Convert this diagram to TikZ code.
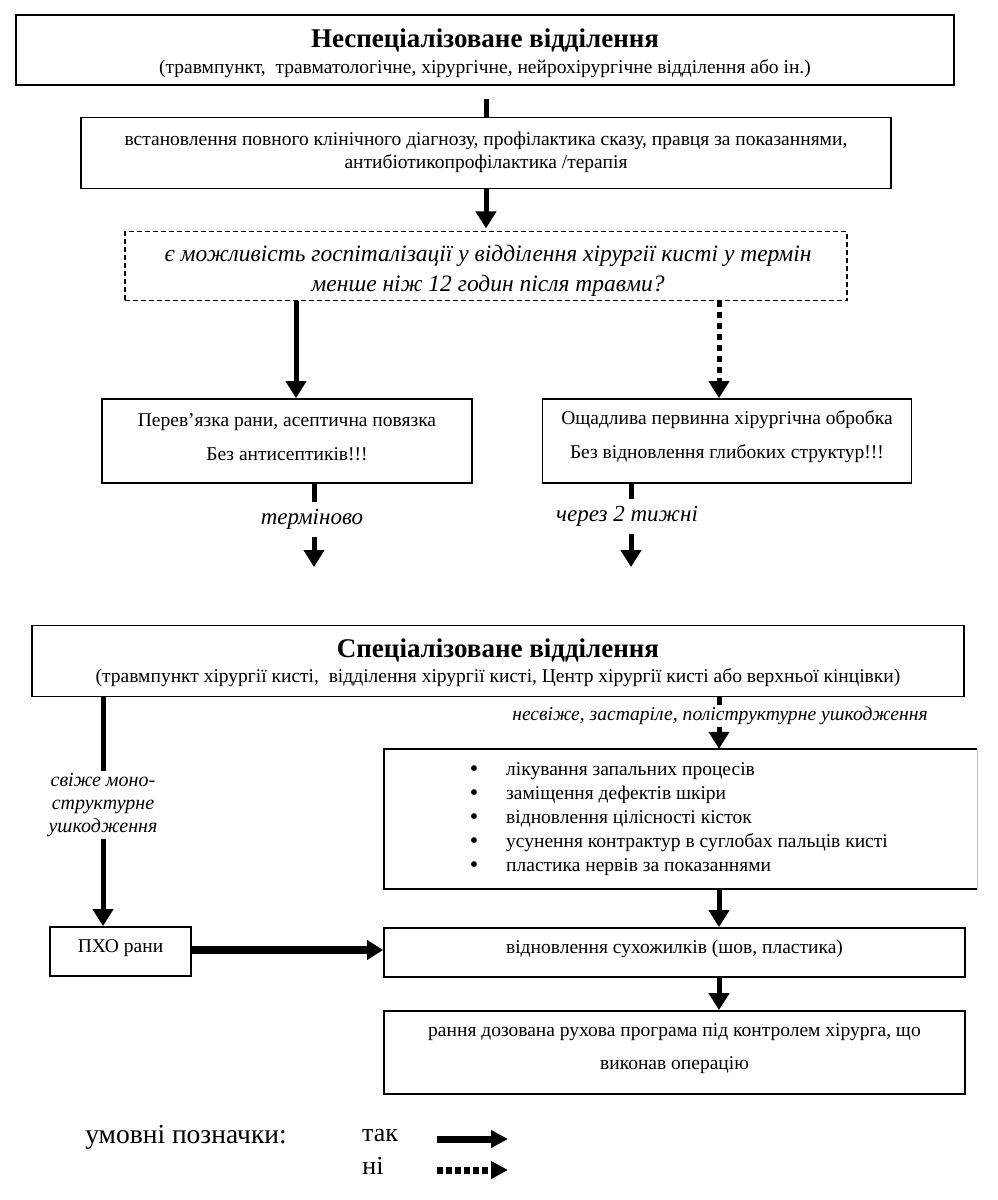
\documentclass[tikz,border=0pt]{standalone}
\usepackage{fontspec}
\setmainfont{Liberation Serif}
\usetikzlibrary{arrows.meta,calc}
\newcommand\myfs[2]{\fontsize{#1}{#2}\selectfont}
\begin{document}
\begin{tikzpicture}[x=1pt,y=-1pt,
  box/.style={draw, line width=1.8pt, inner sep=0pt, align=center},
  qbox/.style={box, dash pattern=on 5pt off 3pt},
  body/.style={inner sep=0pt, align=center, font=\myfs{19.5}{23}},
  lbl/.style={inner sep=0pt, align=center, font=\itshape\myfs{21}{23}},
  title/.style={inner sep=0pt, font=\bfseries\myfs{27}{30}},
  stub/.style={line width=5pt},
  arr/.style={line width=5pt, -{Triangle[width=20pt,length=17pt]}},
  darr/.style={arr, dash pattern=on 6pt off 5pt},
  wide/.style={line width=8pt, -{Triangle[width=19pt,length=16pt]}}
]
\useasboundingbox (0,0) rectangle (998,1200);

% --- top department
\node[box, minimum width=938pt, minimum height=70pt] (b1) at (485,50) {};
\node[title] (t1) at (485,40) {Неспеціалізоване відділення};
\node[body] (s1) at (485,69) {(травмпункт, \ травматологічне, хірургічне, нейрохірургічне відділення або ін.)};

\node[box, minimum width=810pt, minimum height=71pt] (b2) at (486,153) {};
\node[body] (b2t) at (486,152) {встановлення повного клінічного діагнозу, профілактика сказу, правця за показаннями,\\антибіотикопрофілактика /терапія};

\draw[stub] (b2.north -| 486,0) -- ++(0,-18);
\draw[arr] (b2.south) -- ++(0,39) coordinate (qtop);

\node[qbox, minimum width=722pt, minimum height=69pt] (q) at (486,266) {};
\node[inner sep=0pt, align=center, font=\itshape\myfs{23.5}{30}] (qt) at (488,271) {є можливість госпіталізації у відділення хірургії кисті у термін\\менше ніж 12 годин після травми?};

% --- two branches
\node[box, minimum width=370pt, minimum height=84pt] (L) at (287,441) {};
\node[body, font=\myfs{19.5}{34}] (Lt) at (287,437) {Перев’язка рани, асептична повязка\\Без антисептиків!!!};
\node[box, minimum width=369pt, minimum height=84pt] (R) at (727,441) {};
\node[body, font=\myfs{19.5}{34}] (Rt) at (727,437) {Ощадлива первинна хірургічна обробка\\Без відновлення глибоких структур!!!};

\draw[arr] (q.south -| 296,0) -- (L.north -| 296,0);
\draw[darr] (q.south -| 719,0) -- (R.north -| 719,0);

\node[lbl, minimum height=35pt, font=\itshape\myfs{23}{23}] (urg) at (312,519.5) {терміново};
\node[lbl, minimum height=35pt, font=\itshape\myfs{23}{23}] (wk) at (627,516.5) {через 2 тижні};
\coordinate (urgend) at (314,567);
\coordinate (wkend) at (631,567);
\draw[stub] (L.south -| urgend) -- (urgend |- urg.north);
\draw[arr] (urgend |- urg.south) -- (urgend);
\draw[stub] (R.south -| wkend) -- (wkend |- wk.north);
\draw[arr] (wkend |- wk.south) -- (wkend);

% --- specialised department
\node[box, minimum width=932pt, minimum height=71pt] (S) at (498,661) {};
\node[title] (t2) at (498,650) {Спеціалізоване відділення};
\node[body] (s2) at (498,678) {(травмпункт хірургії кисті, \ відділення хірургії кисті, Центр хірургії кисті або верхньої кінцівки)};

% bullet box (right edge faint)
\node[inner sep=0pt, minimum width=593pt, minimum height=140pt] (B) at (680.5,819) {};
\draw[line width=1.8pt] (B.north east) -- (B.north west) -- (B.south west) -- (B.south east);
\draw[line width=0.8pt, black!25] (B.north east) -- (B.south east);
\foreach \i/\t in {1/лікування запальних процесів,2/заміщення дефектів шкіри,3/відновлення цілісності кісток,4/усунення контрактур в суглобах пальців кисті,5/пластика нервів за показаннями}{
  \node[inner sep=0pt, font=\myfs{24}{23}] (bu\i) at (474,{747+24*\i}) {•};
  \node[inner sep=0pt, anchor=west, font=\myfs{19.5}{23}] (bt\i) at (506,{747+24*\i}) {\t};
}

\node[lbl, minimum height=22pt, font=\itshape\myfs{19.6}{23}] (old) at (720,716) {несвіже, застаріле, поліструктурне ушкодження};
\draw[stub] (S.south -| 719,0) -- (old.north -| 719,0);
\draw[arr] (old.south -| 719,0) -- (B.north -| 719,0);

\node[box, minimum width=141pt, minimum height=49pt] (P) at (120.5,951.5) {};
\node[body] (Pt) at (120.5,948) {ПХО рани};

\node[lbl, minimum height=68pt, font=\itshape\myfs{20}{23}] (fresh) at (103,805) {свіже моно-\\структурне\\ушкодження};
\draw[stub] (S.south -| 103,0) -- (fresh.north -| 103,0);
\draw[arr] (fresh.south -| 103,0) -- (P.north -| 103,0);

\node[box, minimum width=581pt, minimum height=49pt] (T) at (674.5,952.5) {};
\node[body] (Tt) at (674.5,949) {відновлення сухожилків (шов, пластика)};
\draw[arr] (B.south -| 719,0) -- (T.north -| 719,0);
\draw[wide] (P.east |- 0,950) -- (T.west |- 0,950);

\node[box, minimum width=581pt, minimum height=83pt] (U) at (674.5,1052.5) {};
\node[body, font=\myfs{19.5}{33}] (Ut) at (674.5,1049) {рання дозована рухова програма під контролем хірурга, що\\виконав операцію};
\draw[arr] (T.south -| 719,0) -- (U.north -| 719,0);

% --- legend
\node[inner sep=0pt, font=\myfs{27.5}{28}] (leg) at (186,1137) {умовні позначки:};
\node[inner sep=0pt, font=\myfs{26}{28}] (yes) at (380,1136) {так};
\node[inner sep=0pt, font=\myfs{26}{28}] (no) at (373,1166) {ні};
\coordinate (y1) at (437,1139);
\coordinate (y2) at (508,1139);
\coordinate (n1) at (437,1170);
\coordinate (n2) at (508,1170);
\draw[line width=7pt, -{Triangle[width=17pt,length=17pt]}] (y1) -- (y2);
\draw[line width=7pt, dash pattern=on 6pt off 3pt, -{Triangle[width=17pt,length=17pt]}] (n1) -- (n2);
\end{tikzpicture}
\end{document}
